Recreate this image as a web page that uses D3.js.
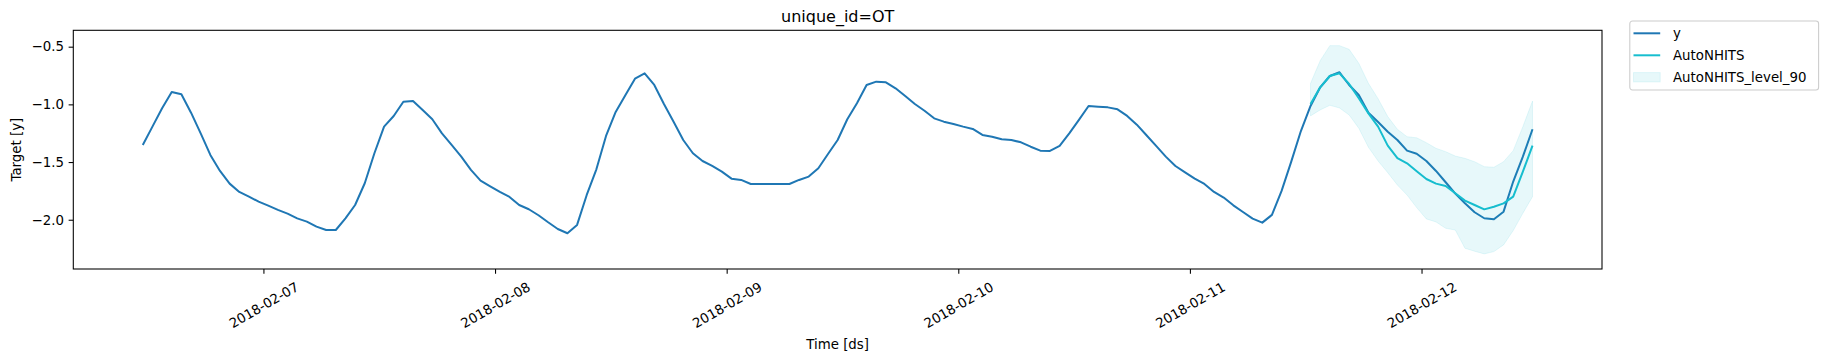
<!DOCTYPE html>
<html>
<head>
<meta charset="utf-8">
<script src="https://cdn.jsdelivr.net/npm/d3@7"></script>
<style>
  body { margin: 0; background: #fff; }
  svg { display: block; font-family: "DejaVu Sans", sans-serif; }
</style>
</head>
<body>
<div id="chart"></div>
<script>
// observed target, one value per hour starting 2018-02-06 11:30
var startTime = "2018-02-06T11:30:00Z";
var yValues = [
  -1.352, -1.193, -1.034, -0.893, -0.913, -1.072, -1.251, -1.438, -1.577, -1.687,
  -1.759, -1.799, -1.843, -1.878, -1.915, -1.947, -1.988, -2.016, -2.060, -2.089,
  -2.089, -1.988, -1.872, -1.684, -1.424, -1.193, -1.101, -0.977, -0.971, -1.049,
  -1.129, -1.251, -1.352, -1.453, -1.568, -1.661, -1.710, -1.759, -1.802, -1.872,
  -1.909, -1.961, -2.022, -2.080, -2.117, -2.045, -1.785, -1.563, -1.274, -1.066,
  -0.921, -0.777, -0.731, -0.832, -0.997, -1.150, -1.309, -1.424, -1.491, -1.534,
  -1.583, -1.644, -1.655, -1.690, -1.690, -1.690, -1.690, -1.690, -1.655, -1.626,
  -1.554, -1.430, -1.309, -1.129, -0.991, -0.832, -0.803, -0.809, -0.861, -0.928,
  -0.997, -1.055, -1.121, -1.150, -1.170, -1.193, -1.213, -1.265, -1.280, -1.303,
  -1.309, -1.329, -1.367, -1.401, -1.404, -1.360, -1.251, -1.135, -1.014, -1.020,
  -1.026, -1.043, -1.100, -1.176, -1.268, -1.360, -1.453, -1.534, -1.589, -1.644,
  -1.690, -1.759, -1.808, -1.875, -1.933, -1.990, -2.025, -1.958, -1.750, -1.496,
  -1.231, -1.014, -0.852, -0.754, -0.722, -0.832, -0.919, -1.072, -1.153, -1.237,
  -1.309, -1.401, -1.428, -1.491, -1.577, -1.675, -1.774, -1.857, -1.935, -1.987,
  -1.996, -1.930, -1.669, -1.453, -1.216
];

// AutoNHITS forecast and its 90% interval, hourly from 2018-02-11 12:30
var forecastStart = "2018-02-11T12:30:00Z";
var nhitsValues = [
  -0.997, -0.852, -0.754, -0.731, -0.823, -0.947, -1.078, -1.193, -1.358, -1.465,
  -1.511, -1.580, -1.647, -1.687, -1.707, -1.771, -1.834, -1.872, -1.910, -1.887,
  -1.858, -1.800, -1.583, -1.358
];
var nhitsHi90 = [
  -0.818, -0.621, -0.491, -0.491, -0.523, -0.644, -0.818, -0.951, -1.106, -1.216,
  -1.280, -1.290, -1.332, -1.381, -1.410, -1.448, -1.468, -1.497, -1.540, -1.545,
  -1.497, -1.401, -1.193, -0.971
];
var nhitsLo90 = [
  -1.100, -1.048, -1.008, -1.031, -1.092, -1.207, -1.372, -1.491, -1.592, -1.699,
  -1.786, -1.895, -1.993, -2.019, -2.074, -2.089, -2.247, -2.273, -2.296, -2.276,
  -2.218, -2.094, -1.944, -1.800
];

var yTicks = [-2.0, -1.5, -1.0, -0.5];
var yDomain = [-2.427, -0.358];
var seriesNames = ["y", "AutoNHITS", "AutoNHITS_level_90"];

var blue = "#1f77b4", cyan = "#17becf";

// plot area
var margin = {top: 30.3, right: 225, bottom: 92, left: 73.3},
    width = 1827 - margin.left - margin.right,
    height = 361 - margin.top - margin.bottom;

var svg = d3.select("#chart")
  .append("svg")
    .attr("width", 1827)
    .attr("height", 361);

var g = svg.append("g")
    .attr("transform", "translate(" + margin.left + "," + margin.top + ")");

// build rows
var t0 = d3.isoParse(startTime);
var yData = yValues.map(function(v, i) { return {ds: d3.utcHour.offset(t0, i), v: v}; });
var f0 = d3.isoParse(forecastStart);
var fData = nhitsValues.map(function(v, i) {
  return {ds: d3.utcHour.offset(f0, i), v: v, lo: nhitsLo90[i], hi: nhitsHi90[i]};
});

// x scale padded by 5% like matplotlib autoscale
var ext = d3.extent(yData, function(d) { return d.ds; });
var span = ext[1] - ext[0];
var x = d3.scaleUtc()
  .domain([new Date(+ext[0] - span * 0.05), new Date(+ext[1] + span * 0.05)])
  .range([0, width]);
var y = d3.scaleLinear()
  .domain(yDomain)
  .range([height, 0]);

// lines
var line = d3.line()
  .x(function(d) { return x(d.ds); })
  .y(function(d) { return y(d.v); });

g.append("path")
  .datum(yData)
  .attr("fill", "none")
  .attr("stroke", blue)
  .attr("stroke-width", 2)
  .attr("stroke-linejoin", "round")
  .attr("d", line);

g.append("path")
  .datum(fData)
  .attr("fill", "none")
  .attr("stroke", cyan)
  .attr("stroke-width", 2)
  .attr("stroke-linejoin", "round")
  .attr("d", line);

// interval band
var band = d3.area()
  .x(function(d) { return x(d.ds); })
  .y0(function(d) { return y(d.lo); })
  .y1(function(d) { return y(d.hi); });

g.append("path")
  .datum(fData)
  .attr("fill", cyan)
  .attr("fill-opacity", 0.1)
  .attr("stroke", cyan)
  .attr("stroke-opacity", 0.1)
  .attr("stroke-width", 1)
  .attr("d", band);

// axes
var tickFont = 13.33;
var xAxis = g.append("g")
  .attr("transform", "translate(0," + height + ")")
  .call(d3.axisBottom(x)
    .ticks(d3.utcDay.every(1))
    .tickFormat(d3.utcFormat("%Y-%m-%d"))
    .tickSize(4.67)
    .tickPadding(0));
xAxis.select(".domain").remove();
xAxis.attr("font-size", tickFont).attr("font-family", null);
xAxis.selectAll(".tick line").attr("stroke-width", 1.07);
xAxis.selectAll(".tick text")
  .attr("y", null)
  .attr("dy", "0.35em")
  .attr("text-anchor", "middle")
  .attr("fill", "#000")
  .attr("transform", "translate(0,36) rotate(-30)");

var yAxis = g.append("g")
  .call(d3.axisLeft(y)
    .tickValues(yTicks)
    .tickFormat(d3.format(".1f"))
    .tickSize(4.67)
    .tickPadding(4.67));
yAxis.select(".domain").remove();
yAxis.attr("font-size", tickFont).attr("font-family", null);
yAxis.selectAll(".tick line").attr("stroke-width", 1.07);
yAxis.selectAll(".tick text").attr("fill", "#000");

// frame
g.append("rect")
  .attr("width", width)
  .attr("height", height)
  .attr("fill", "none")
  .attr("stroke", "#000")
  .attr("stroke-width", 1.07);

// title and axis labels
svg.append("text")
  .attr("x", margin.left + width / 2)
  .attr("y", 22)
  .attr("text-anchor", "middle")
  .attr("font-size", 16)
  .text("unique_id=OT");

svg.append("text")
  .attr("x", margin.left + width / 2)
  .attr("y", 344)
  .attr("dy", "0.35em")
  .attr("text-anchor", "middle")
  .attr("font-size", tickFont)
  .text("Time [ds]");

svg.append("text")
  .attr("transform", "translate(16," + (margin.top + height / 2) + ") rotate(-90)")
  .attr("dy", "0.35em")
  .attr("text-anchor", "middle")
  .attr("font-size", tickFont)
  .text("Target [y]");

// legend
var legend = svg.append("g")
  .attr("transform", "translate(1629.8,21)");

legend.append("rect")
  .attr("width", 188.8)
  .attr("height", 69)
  .attr("rx", 2.7)
  .attr("fill", "#fff")
  .attr("fill-opacity", 0.8)
  .attr("stroke", "#cccccc")
  .attr("stroke-width", 1.07);

var rowY = [12.3, 34.3, 56.3];
seriesNames.forEach(function(name, i) {
  var row = legend.append("g").attr("transform", "translate(0," + rowY[i] + ")");
  if (i < 2) {
    row.append("line")
      .attr("x1", 3.7).attr("x2", 30.4)
      .attr("stroke", i === 0 ? blue : cyan)
      .attr("stroke-width", 2);
  } else {
    row.append("rect")
      .attr("x", 3.7).attr("y", -4.7)
      .attr("width", 26.7).attr("height", 9.3)
      .attr("fill", cyan)
      .attr("fill-opacity", 0.1)
      .attr("stroke", cyan)
      .attr("stroke-opacity", 0.1);
  }
  row.append("text")
    .attr("x", 43.2)
    .attr("dy", "0.35em")
    .attr("font-size", tickFont)
    .text(name);
});
</script>
</body>
</html>
